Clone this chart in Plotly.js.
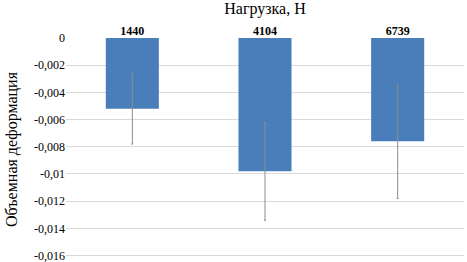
<!DOCTYPE html>
<html><head><meta charset="utf-8">
<script src="https://cdn.plot.ly/plotly-3.0.1.min.js"></script>
<style>html,body{margin:0;padding:0;background:#fff}</style>
</head><body>
<div id="chart" style="width:467px;height:262px"></div>
<script>
var categories = ['1440', '4104', '6739'];
var values = [-0.0052, -0.0098, -0.0076];
var errors = [0.0026, 0.0036, 0.0042];
var tickVals = [0, -0.002, -0.004, -0.006, -0.008, -0.01, -0.012, -0.014, -0.016];
var tickText = ['0', '-0,002', '-0,004', '-0,006', '-0,008', '-0,01', '-0,012', '-0,014', '-0,016'];

var serif = 'Liberation Serif';
var trace = {
  type: 'bar',
  x: categories,
  y: values,
  marker: {color: '#4a7ebb'},
  error_y: {type: 'data', array: errors, visible: true, color: '#8c8c8c', thickness: 1, width: 1}
};
var layout = {
  width: 467, height: 262,
  margin: {l: 66, r: 3, t: 38, b: 1},
  paper_bgcolor: '#fff', plot_bgcolor: '#fff',
  font: {family: serif, color: '#000'},
  bargap: 0.6,
  showlegend: false,
  xaxis: {
    type: 'category', side: 'top',
    tickfont: {size: 12, family: serif, weight: 'bold'},
    ticks: '', showline: false, showgrid: false,
    ticklabelstandoff: 0,
    title: {text: 'Нагрузка, Н', font: {size: 16, family: serif}, standoff: 4}
  },
  yaxis: {
    range: [-0.0164, 0],
    tickvals: tickVals, ticktext: tickText,
    tickfont: {size: 12, family: serif},
    ticklabeloverflow: 'allow',
    gridcolor: '#d9d9d9', zeroline: false, showline: false, ticks: '',
    title: {text: 'Объемная деформация', font: {size: 16, family: serif}, standoff: 12}
  }
};
Plotly.newPlot('chart', [trace], layout, {displayModeBar: false, staticPlot: true});
</script>
</body></html>
